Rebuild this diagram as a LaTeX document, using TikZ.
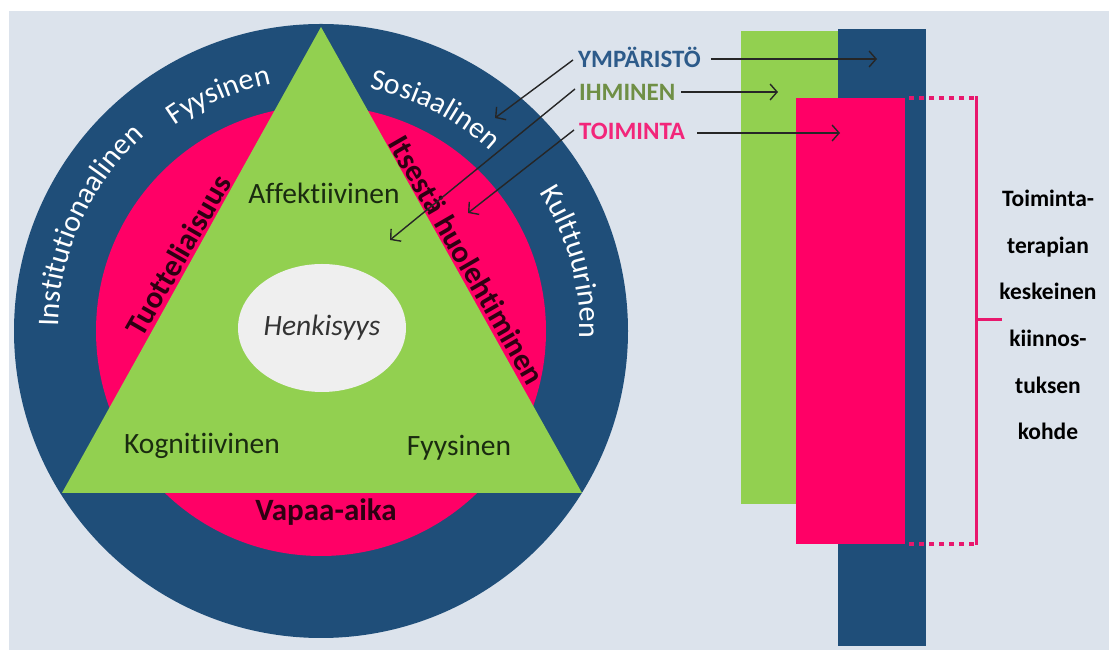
\documentclass[tikz,border=0pt]{standalone}
\usepackage{fontspec}
\setmainfont{Carlito}[Ligatures=NoCommon]
\usetikzlibrary{arrows.meta,decorations.text,calc,shapes.geometric}
\definecolor{bg}{HTML}{DCE3EC}
\definecolor{navy}{HTML}{1F4E79}
\definecolor{hotpink}{HTML}{FF0066}
\definecolor{lgreen}{HTML}{92D050}
\definecolor{ellgrey}{HTML}{EFEFEF}
\definecolor{txtgreen}{HTML}{1A2B10}
\definecolor{txtpink}{HTML}{2E0012}
\definecolor{legnavy}{HTML}{2D5B8A}
\definecolor{legolive}{HTML}{6F8F45}
\definecolor{legpink}{HTML}{F2267A}
\definecolor{brpink}{HTML}{E8186D}
\begin{document}
\begin{tikzpicture}[x=1pt,y=1pt,
  reg/.style={font=\fontsize{29.5}{31}\selectfont, inner sep=0pt, text=txtgreen},
  boldpink/.style={font=\bfseries\fontsize{31}{33}\selectfont, text=txtpink, inner sep=0pt},
  legend/.style={font=\bfseries\fontsize{25}{27}\selectfont, inner sep=0pt, anchor=west},
  arr/.style={-{Straight Barb[length=7pt,width=16pt]}, line width=1.4pt, draw=black!85},
  curvtext/.style={decorate, decoration={text along path, text align=center, text color=white, text={|\fontsize{30}{32}\selectfont|#1}}}
]
\useasboundingbox (0,0) rectangle (1109,650);
\fill[white] (0,0) rectangle (1109,650);
\fill[bg] (9,0) rectangle (1109,639);
% circle diagram
\coordinate (C) at (321,319);
\fill[navy] (C) circle[radius=307pt];
\fill[hotpink] (C) circle[radius=225pt];
\fill[lgreen] (321,623) -- (62,157) -- (582,157) -- cycle;
\node[ellipse, fill=ellgrey, minimum width=168pt, minimum height=128pt, inner sep=0pt,
      font=\itshape\fontsize{29.5}{31}\selectfont, text=black!80] (henk) at (322,322) {Henkisyys};
\node[reg] (aff) at (324,457) {Affektiivinen};
\node[reg] (kog) at (202,204) {Kognitiivinen};
\node[reg] (fyt) at (459,202) {Fyysinen};
\node[boldpink] (vap) at (326,138) {Vapaa-aika};
\node[boldpink, rotate=60] (tuo) at (178,395) {Tuotteliaisuus};
\node[boldpink, rotate=-60] (its) at (467,390) {Itsestä huolehtiminen};
% outer curved labels
\path[curvtext={Institutionaalinen}] ($(C)+(215.6:263pt)$) arc[start angle=215.6, end angle=95.6, radius=263pt];
\path[curvtext={Fyysinen}] ($(C)+(153.4:252pt)$) arc[start angle=153.4, end angle=73.4, radius=252pt];
\path[curvtext={Sosiaalinen}] ($(C)+(112.8:247pt)$) arc[start angle=112.8, end angle=12.8, radius=247pt];
\path[curvtext={Kulttuurinen}] ($(C)+(65.4:259pt)$) arc[start angle=65.4, end angle=-34.6, radius=259pt];
% right bars
\fill[lgreen] (741,146) rectangle (842,619);
\fill[navy] (838,4) rectangle (926,621);
\fill[hotpink] (796,106) rectangle (905,552);
% bracket
\draw[brpink, line width=4pt, dash pattern=on 5pt off 5pt] (909,552) -- (975,552);
\draw[brpink, line width=4pt, dash pattern=on 5pt off 5pt] (909,106) -- (975,106);
\draw[brpink, line width=3pt] (976,553.5) -- (976,104.5);
\draw[brpink, line width=3pt] (976,330) -- (1002,330);
\node[font=\bfseries\fontsize{23.5}{46.6}\selectfont, align=center, inner sep=0pt] (lbl) at (1048,335)
  {Toiminta-\\terapian\\keskeinen\\kiinnos-\\tuksen\\kohde};
% legend
\node[legend, text=legnavy] (ymp) at (578,593) {YMPÄRISTÖ};
\node[legend, text=legolive] (ihm) at (579,558) {IHMINEN};
\node[legend, text=legpink] (toi) at (579,519) {TOIMINTA};
\coordinate (ymph) at (877,591);
\coordinate (ihmh) at (778,558);
\coordinate (toih) at (840,517);
\coordinate (ympd) at (495,532);
\coordinate (ihmd) at (390,410);
\coordinate (toid) at (468,437);
\draw[arr] ([xshift=10pt,yshift=-2pt]ymp.east) -- (ymph);
\draw[arr] ([xshift=6pt]ihm.east) -- (ihmh);
\draw[arr] ([xshift=12pt,yshift=-2pt]toi.east) -- (toih);
\draw[arr] ([xshift=-5pt,yshift=-3pt]ymp.west) -- (ympd);
\draw[arr] ([xshift=-4pt,yshift=3pt]ihm.west) -- (ihmd);
\draw[arr] ([xshift=-5pt,yshift=1pt]toi.west) -- (toid);
\end{tikzpicture}
\end{document}
